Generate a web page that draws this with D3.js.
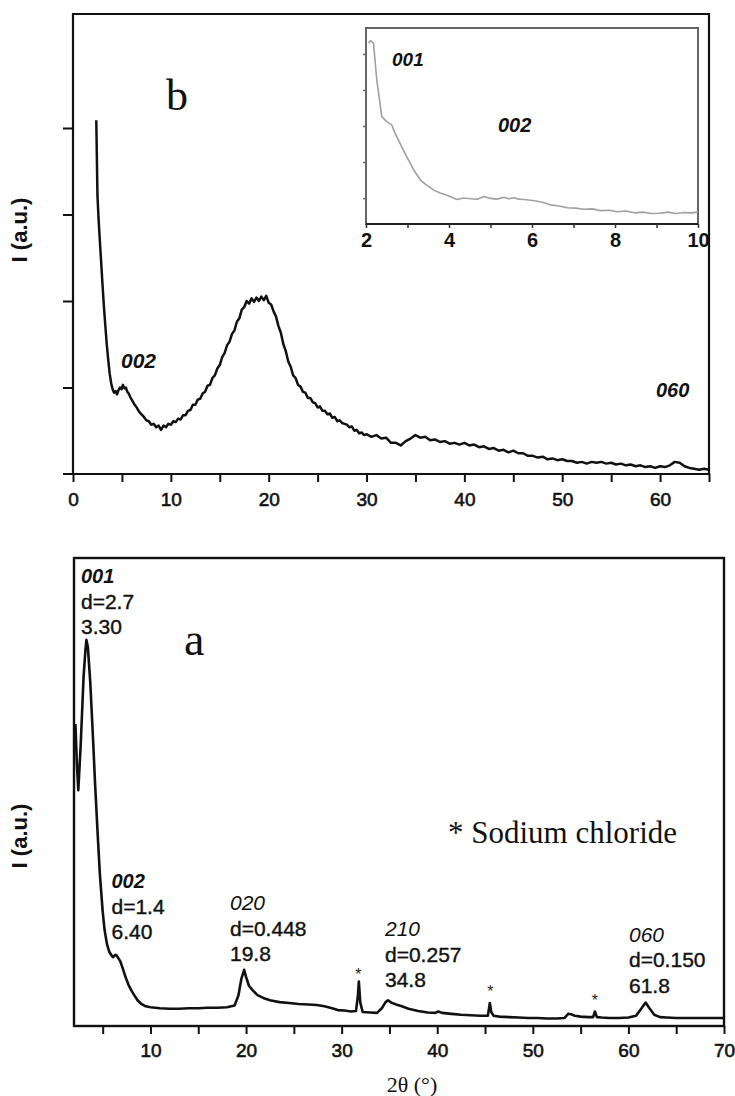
<!DOCTYPE html>
<html><head><meta charset="utf-8">
<script src="https://cdn.jsdelivr.net/npm/d3@7"></script>
<style>
html,body{margin:0;padding:0;background:#fff;}
svg{display:block;}
</style></head>
<body>
<svg id="c" width="735" height="1096"></svg>
<script>
// ---------- DATA ----------
// Panel b (top): 2theta and intensity (tick units)
const topTheta = [2.38,2.42,2.46,2.5,2.6,2.7,2.85,3.0,3.15,3.3,3.45,3.6,3.75,3.9,4.05,4.2,4.35,4.5,4.65,4.8,4.95,5.1,5.25,5.4,5.55,5.7,5.85,6.0,6.25,6.5,6.75,7.0,7.25,7.5,7.75,8.0,8.25,8.5,8.75,9.0,9.25,9.5,9.75,10.0,10.25,10.5,10.75,11.0,11.25,11.5,11.75,12.0,12.25,12.5,12.75,13.0,13.25,13.5,13.75,14.0,14.25,14.5,14.75,15.0,15.25,15.5,15.75,16.0,16.25,16.5,16.75,17.0,17.25,17.5,17.75,18.0,18.25,18.5,18.75,19.0,19.25,19.5,19.75,20.0,20.25,20.5,20.75,21.0,21.25,21.5,21.75,22.0,22.25,22.5,22.75,23.0,23.25,23.5,23.75,24.0,24.25,24.5,24.75,25.0,25.25,25.5,25.75,26.0,26.25,26.5,26.75,27.0,27.25,27.5,27.75,28.0,28.25,28.5,28.75,29.0,29.25,29.5,29.75,30.0,30.5,31.0,31.5,32.0,32.5,33.0,33.5,34.0,34.5,35.0,35.5,36.0,36.5,37.0,37.5,38.0,38.5,39.0,39.5,40.0,40.5,41.0,41.5,42.0,42.5,43.0,43.5,44.0,44.5,45.0,45.5,46.0,46.5,47.0,47.5,48.0,48.5,49.0,49.5,50.0,50.5,51.0,51.5,52.0,52.5,53.0,53.5,54.0,54.5,55.0,55.5,56.0,56.5,57.0,57.5,58.0,58.5,59.0,59.5,60.0,60.5,61.0,61.5,62.0,62.5,63.0,63.5,64.0,64.5,65.0];
const topIntensity = [4.09,3.80,3.50,3.22,2.98,2.78,2.50,2.22,1.95,1.72,1.50,1.32,1.16,1.05,0.98,0.94,0.96,0.92,0.97,1.00,0.98,1.03,0.99,1.00,0.95,0.93,0.89,0.86,0.81,0.77,0.72,0.69,0.66,0.62,0.61,0.57,0.58,0.54,0.56,0.51,0.56,0.54,0.58,0.57,0.61,0.60,0.64,0.63,0.68,0.68,0.73,0.74,0.80,0.80,0.86,0.87,0.93,0.95,1.02,1.03,1.11,1.14,1.22,1.26,1.35,1.40,1.49,1.53,1.62,1.66,1.76,1.80,1.90,1.93,2.00,1.97,2.03,1.99,2.04,2.00,2.05,2.01,2.06,1.98,1.96,1.88,1.82,1.71,1.63,1.50,1.42,1.30,1.24,1.14,1.11,1.03,1.01,0.95,0.94,0.88,0.88,0.83,0.82,0.77,0.78,0.73,0.73,0.69,0.70,0.65,0.66,0.61,0.62,0.59,0.58,0.57,0.54,0.55,0.50,0.51,0.47,0.48,0.45,0.46,0.43,0.45,0.41,0.42,0.36,0.36,0.33,0.38,0.41,0.45,0.42,0.43,0.39,0.40,0.37,0.38,0.35,0.36,0.34,0.36,0.33,0.34,0.31,0.32,0.29,0.30,0.27,0.28,0.25,0.27,0.24,0.24,0.21,0.21,0.19,0.20,0.17,0.18,0.16,0.17,0.15,0.15,0.13,0.14,0.12,0.14,0.13,0.14,0.12,0.13,0.11,0.12,0.10,0.11,0.09,0.10,0.08,0.09,0.07,0.09,0.08,0.10,0.14,0.13,0.09,0.07,0.06,0.05,0.06,0.05];

// Inset (panel b, low angle)
const insetTheta = [2.06,2.11,2.18,2.26,2.38,2.5,2.62,2.7,2.82,2.98,3.15,3.31,3.47,3.63,3.79,3.95,4.07,4.19,4.35,4.52,4.68,4.84,5.0,5.16,5.32,5.44,5.56,5.68,5.81,5.97,6.13,6.29,6.45,6.65,6.85,7.05,7.26,7.46,7.66,7.86,8.06,8.26,8.47,8.67,8.87,9.07,9.27,9.47,9.68,9.84,10.0];
const insetIntensity = [5.30,5.37,5.30,4.28,3.26,3.12,3.03,2.80,2.52,2.15,1.78,1.50,1.35,1.22,1.14,1.08,1.02,0.96,1.00,0.98,0.97,1.04,0.99,0.97,1.02,0.98,1.01,0.97,0.96,0.94,0.91,0.87,0.81,0.78,0.73,0.72,0.69,0.70,0.65,0.66,0.62,0.64,0.59,0.61,0.57,0.58,0.61,0.57,0.60,0.59,0.61];

// Panel a (bottom)
const botTheta = [2.15,2.3,2.45,2.7,3.0,3.2,3.3,3.45,3.7,4.0,4.2,4.45,4.7,5.0,5.2,5.45,5.7,5.95,6.1,6.3,6.45,6.6,6.85,7.1,7.4,7.7,8.0,8.3,8.65,9.0,9.5,10.0,11.0,12.0,13.0,14.0,15.0,16.0,17.0,18.0,18.8,19.2,19.5,19.8,20.0,20.3,20.7,21.2,21.8,22.5,23.5,24.5,25.5,26.5,27.4,28.2,29.0,29.6,30.3,31.0,31.5,31.7,31.8,31.95,32.2,33.0,33.7,34.2,34.6,34.85,35.2,35.7,36.3,37.0,38.0,39.0,39.8,40.1,40.5,41.5,42.5,43.5,44.5,45.3,45.5,45.65,45.9,46.5,47.5,48.5,49.5,50.5,51.5,52.5,53.3,53.7,54.0,54.4,55.0,55.8,56.3,56.5,56.7,57.2,58.0,59.0,60.0,60.8,61.3,61.8,62.2,62.7,63.3,64.0,65.0,66.0,67.0,68.0,69.0,70.0];
const botIntensity = [64.5,56.0,50.4,60.0,74.5,80.5,82.5,81.0,73.5,61.0,52.0,42.0,32.6,24.5,20.5,17.5,15.8,15.0,14.7,15.2,15.1,14.6,13.8,12.3,10.4,8.8,7.6,6.6,5.5,4.8,4.2,4.0,3.8,3.7,3.7,3.8,3.8,3.9,3.9,4.0,4.4,6.5,10.0,12.0,10.5,8.6,7.6,6.6,6.0,5.5,5.1,4.9,4.7,4.6,4.5,4.2,3.8,3.4,3.3,3.1,3.2,6.5,9.5,5.0,3.0,2.9,2.8,3.8,5.1,5.5,5.0,4.6,4.2,3.7,3.2,2.9,2.8,3.1,2.8,2.6,2.4,2.3,2.2,2.2,4.9,3.0,2.2,2.0,1.9,1.8,1.7,1.7,1.6,1.6,1.7,2.6,2.5,2.2,2.0,1.9,1.9,3.1,1.9,1.8,1.7,1.7,1.8,2.2,3.6,5.0,3.8,2.4,1.9,1.8,1.7,1.7,1.7,1.7,1.7,1.7];

// Tick values / labels
const topXTicks = [0,5,10,15,20,25,30,35,40,45,50,55,60,65];
const topXLabels = [0,10,20,30,40,50,60];
const topYTicks = [1,2,3,4];
const insetXTicks = [2,3,4,5,6,7,8,9,10];
const insetXLabels = [2,4,6,8,10];
const insetYTicks = [1,2,3,4,5];
const botXTicks = [5,10,15,20,25,30,35,40,45,50,55,60,65,70];
const botXLabels = [10,20,30,40,50,60,70];

// Annotations for panel a: [hkl, d-spacing line, 2theta line]
const botPeakHkl = ["001","002","020","210","060"];
const botPeakD = ["d=2.7","d=1.4","d=0.448","d=0.257","d=0.150"];
const botPeakPos = ["3.30","6.40","19.8","34.8","61.8"];
const naclPeaks = [31.75, 45.55, 56.5];

// ---------- DRAW ----------
const svg = d3.select("#c");
const sans = "'Liberation Sans', Arial, sans-serif";
const serif = "'Liberation Serif', 'Times New Roman', serif";

function pts(xs, ys){ return xs.map((x,i)=>[x, ys[i]]); }
function heavy(sel, w){ return sel.attr("stroke","#111").attr("stroke-width",w).attr("paint-order","stroke"); }

// ===== Top panel (b) =====
const xT = d3.scaleLinear().domain([0,65]).range([73,709]);
const yT = d3.scaleLinear().domain([0,(474-14)/86.5]).range([474,14]);

const gT = svg.append("g");
gT.append("path").attr("d", `M${xT(0)},${yT(0)}V${yT.range()[1]}H${xT(65)}V${yT(0)}`)
  .attr("fill","none").attr("stroke","#111").attr("stroke-width",2.2);
gT.append("line").attr("x1",63).attr("x2",xT(65)).attr("y1",yT(0)).attr("y2",yT(0))
  .attr("stroke","#111").attr("stroke-width",2.2);

const axT = gT.append("g").attr("transform",`translate(0,${yT(0)})`)
  .call(d3.axisBottom(xT).tickValues(topXTicks).tickSize(8).tickPadding(10.5)
        .tickFormat(d => topXLabels.includes(d) ? d : ""));
axT.select(".domain").remove();
axT.selectAll(".tick line").attr("stroke","#111").attr("stroke-width",2);
heavy(axT.selectAll(".tick text").attr("font-family",sans).attr("font-size",19).attr("fill","#111"), 0.6);

const ayT = gT.append("g").attr("transform",`translate(${xT(0)},0)`)
  .call(d3.axisLeft(yT).tickValues(topYTicks).tickSize(10).tickFormat(""));
ayT.select(".domain").remove();
ayT.selectAll(".tick line").attr("stroke","#111").attr("stroke-width",2);

gT.append("path").datum(pts(topTheta, topIntensity))
  .attr("d", d3.line().x(d=>xT(d[0])).y(d=>yT(d[1])))
  .attr("fill","none").attr("stroke","#111").attr("stroke-width",2.5).attr("stroke-linejoin","round");

gT.append("text").attr("transform","translate(27,230) rotate(-90)").attr("text-anchor","middle")
  .attr("font-family",sans).attr("font-weight","bold").attr("font-size",22).attr("fill","#111").text("I (a.u.)");
gT.append("text").attr("x",166).attr("y",110).attr("font-family",serif).attr("font-size",44).attr("fill","#111").text("b");
gT.append("text").attr("x",121).attr("y",368).attr("font-family",sans).attr("font-weight","bold").attr("font-style","italic")
  .attr("font-size",21).attr("fill","#111").text("002");
gT.append("text").attr("x",656).attr("y",397).attr("font-family",sans).attr("font-weight","bold").attr("font-style","italic")
  .attr("font-size",20).attr("fill","#111").text("060");

// ===== Inset =====
const xI = d3.scaleLinear().domain([2,10]).range([366,698]);
const yI = d3.scaleLinear().domain([0.28,5.72]).range([224,28]);
const gI = svg.append("g");
gI.append("rect").attr("x",xI(2)).attr("y",yI(5.72)).attr("width",xI(10)-xI(2)).attr("height",yI(0.28)-yI(5.72))
  .attr("fill","#fff").attr("stroke","#666").attr("stroke-width",2);
gI.append("line").attr("x1",xI(2)).attr("x2",xI(10)).attr("y1",yI(0.28)).attr("y2",yI(0.28))
  .attr("stroke","#222").attr("stroke-width",2);
const axI = gI.append("g").attr("transform",`translate(0,${yI(0.28)})`)
  .call(d3.axisBottom(xI).tickValues(insetXTicks).tickSize(4).tickPadding(5)
        .tickFormat(d => insetXLabels.includes(d) ? d : ""));
axI.select(".domain").remove();
axI.selectAll(".tick line").attr("stroke","#333").attr("stroke-width",1.5);
axI.selectAll(".tick text").attr("font-family",sans).attr("font-weight","bold").attr("font-size",20).attr("fill","#111");
const ayI = gI.append("g").attr("transform",`translate(${xI(2)},0)`)
  .call(d3.axisLeft(yI).tickValues(insetYTicks).tickSize(3).tickFormat(""));
ayI.select(".domain").remove();
ayI.selectAll(".tick line").attr("stroke","#666").attr("stroke-width",1.5);
gI.append("path").datum(pts(insetTheta, insetIntensity))
  .attr("d", d3.line().x(d=>xI(d[0])).y(d=>yI(d[1])))
  .attr("fill","none").attr("stroke","#a0a0a0").attr("stroke-width",1.6).attr("stroke-linejoin","round");
gI.append("text").attr("x",392).attr("y",66).attr("font-family",sans).attr("font-weight","bold").attr("font-style","italic")
  .attr("font-size",19).attr("fill","#111").text("001");
gI.append("text").attr("x",498).attr("y",132).attr("font-family",sans).attr("font-weight","bold").attr("font-style","italic")
  .attr("font-size",20).attr("fill","#111").text("002");

// ===== Bottom panel (a) =====
const xB = d3.scaleLinear().domain([2,70]).range([74,724]);
const yB = d3.scaleLinear().domain([0,100]).range([1026,558]);
const gB = svg.append("g");
gB.append("rect").attr("x",xB(2)).attr("y",yB(100)).attr("width",xB(70)-xB(2)).attr("height",yB(0)-yB(100))
  .attr("fill","none").attr("stroke","#111").attr("stroke-width",2.4);
const axB = gB.append("g").attr("transform",`translate(0,${yB(0)})`)
  .call(d3.axisBottom(xB).tickValues(botXTicks).tickSize(8).tickPadding(9.5)
        .tickFormat(d => botXLabels.includes(d) ? d : ""));
axB.select(".domain").remove();
axB.selectAll(".tick line").attr("stroke","#111").attr("stroke-width",2);
heavy(axB.selectAll(".tick text").attr("font-family",sans).attr("font-size",19).attr("fill","#111"), 0.6);

gB.append("path").datum(pts(botTheta, botIntensity))
  .attr("d", d3.line().x(d=>xB(d[0])).y(d=>yB(d[1])))
  .attr("fill","none").attr("stroke","#111").attr("stroke-width",2.6).attr("stroke-linejoin","round");

gB.append("text").attr("transform","translate(27,836) rotate(-90)").attr("text-anchor","middle")
  .attr("font-family",sans).attr("font-weight","bold").attr("font-size",22).attr("fill","#111").text("I (a.u.)");
gB.append("text").attr("x",412).attr("y",1092).attr("text-anchor","middle")
  .attr("font-family",serif).attr("font-size",22).attr("fill","#111").text("2θ (°)");
gB.append("text").attr("x",184).attr("y",655).attr("font-family",serif).attr("font-size",46).attr("fill","#111").text("a");
gB.append("text").attr("x",448).attr("y",843).attr("font-family",serif).attr("font-size",31).attr("fill","#111").text("* Sodium chloride");

// peak annotations
const annX = [81,111.5,230,385,629];
const annY = [583,888,910,936,941.5];
botPeakHkl.forEach((h,i)=>{
  const bold = i < 2;
  const g = gB.append("g");
  g.append("text").attr("x",annX[i]).attr("y",annY[i]).attr("font-family",sans)
    .attr("font-style","italic").attr("font-weight", bold ? "bold" : "normal")
    .attr("font-size",bold ? 20 : 21).attr("fill","#111").text(h);
  heavy(g.append("text").attr("x",annX[i]).attr("y",annY[i]+25.5).attr("font-family",sans)
    .attr("font-size",21).attr("fill","#111").text(botPeakD[i]), 0.4);
  heavy(g.append("text").attr("x",annX[i]).attr("y",annY[i]+51).attr("font-family",sans)
    .attr("font-size",21).attr("fill","#111").text(botPeakPos[i]), 0.4);
});
// NaCl asterisks
const astY = [980, 997, 1006];
naclPeaks.forEach((p,i)=>{
  gB.append("text").attr("x",xB(p)).attr("y",astY[i]).attr("text-anchor","middle")
    .attr("font-family",sans).attr("font-size",16).attr("fill","#222").text("*");
});
</script>
</body></html>
